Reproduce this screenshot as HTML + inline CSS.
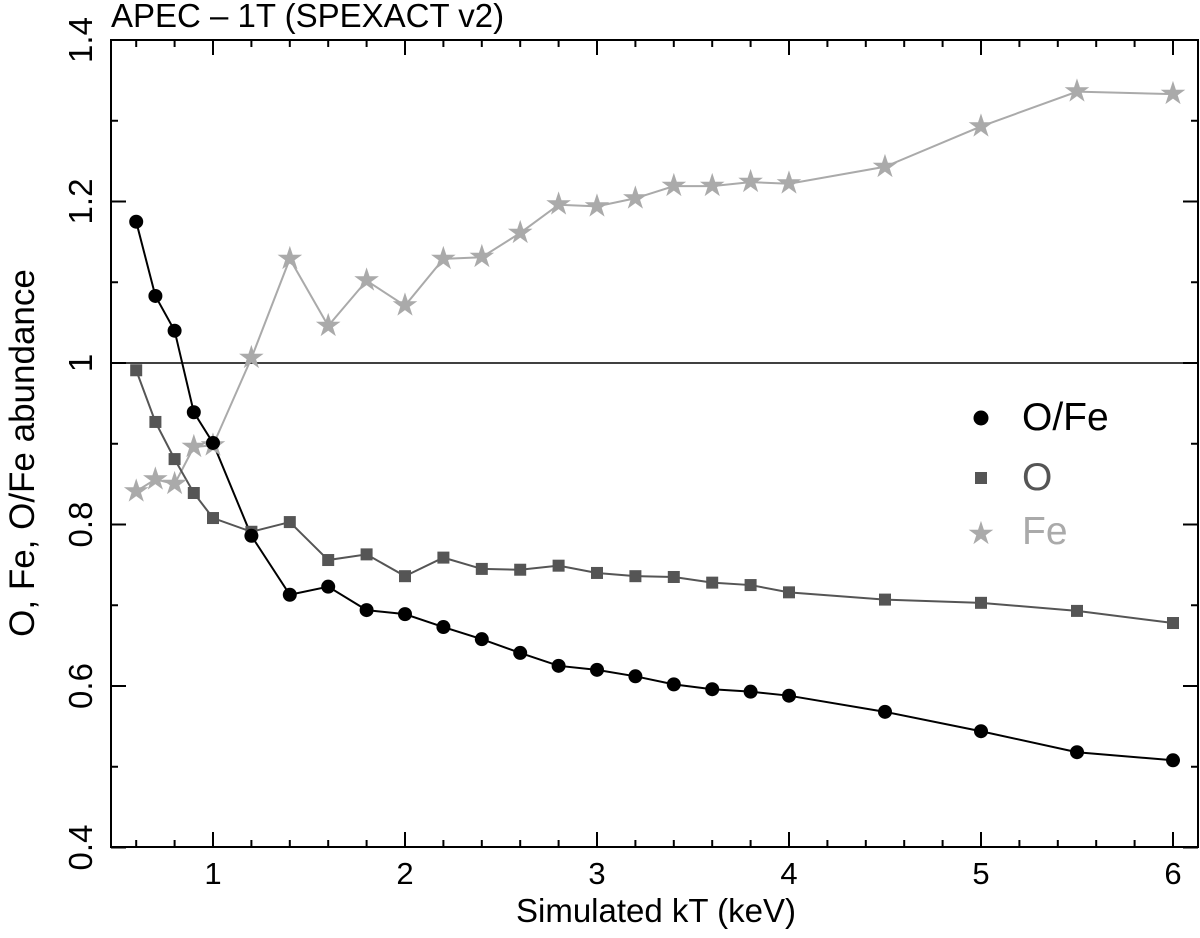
<!DOCTYPE html>
<html><head><meta charset="utf-8"><style>
html,body{margin:0;padding:0;background:#fff}
svg text{font-family:"Liberation Sans",Arial,sans-serif}
</style></head><body>
<svg id="chart" width="1200" height="933" viewBox="0 0 1200 933" xmlns="http://www.w3.org/2000/svg">
<text x="111" y="27" font-size="33">APEC – 1T (SPEXACT v2)</text>
<g id="axes"></g>
<g id="series"></g>
<g id="legend">
  <circle cx="981" cy="418" r="7.5" fill="#000"/>
  <text x="1022" y="430" font-size="39" fill="#000">O/Fe</text>
  <rect x="975" y="472" width="12" height="12" fill="#555"/>
  <text x="1022" y="490" font-size="39" fill="#555">O</text>
  <text x="981" y="544" font-size="32" fill="#aaa" text-anchor="middle">★</text>
  <text x="1022" y="544" font-size="39" fill="#aaa">Fe</text>
</g>
<text x="656" y="922" font-size="33" text-anchor="middle">Simulated kT (keV)</text>
<text transform="translate(34,453) rotate(-90)" font-size="35" text-anchor="middle">O, Fe, O/Fe abundance</text>
</svg>
<script>
const kT = [0.6,0.7,0.8,0.9,1.0,1.2,1.4,1.6,1.8,2.0,2.2,2.4,2.6,2.8,3.0,3.2,3.4,3.6,3.8,4.0,4.5,5.0,5.5,6.0];
const ofe = [1.175,1.083,1.040,0.939,0.901,0.786,0.713,0.723,0.694,0.689,0.673,0.658,0.641,0.625,0.620,0.612,0.602,0.596,0.593,0.588,0.568,0.544,0.518,0.508];
const oAb = [0.991,0.927,0.881,0.839,0.808,0.791,0.803,0.756,0.763,0.736,0.759,0.745,0.744,0.749,0.740,0.736,0.735,0.728,0.725,0.716,0.707,0.703,0.693,0.678];
const feAb = [0.841,0.856,0.850,0.896,0.898,1.006,1.129,1.046,1.102,1.071,1.129,1.131,1.161,1.196,1.194,1.204,1.219,1.219,1.224,1.222,1.243,1.293,1.336,1.333];
const xTicks = [1,2,3,4,5,6];
const yTicks = [0.4,0.6,0.8,1.0,1.2,1.4];
const yTickLabels = ["0.4","0.6","0.8","1","1.2","1.4"];

const NS="http://www.w3.org/2000/svg";
const L=111,R=1198,T=40,B=847;
const xs=v=>213+(v-1)*192;
const ys=v=>363-(v-1)*807.5;
function mk(tag,attrs,parent){const e=document.createElementNS(NS,tag);for(const k in attrs)e.setAttribute(k,attrs[k]);parent.appendChild(e);return e;}
const ax=document.getElementById('axes');
const frame=mk('rect',{x:L,y:T,width:R-L,height:B-T,fill:'none',stroke:'#000','stroke-width':2},ax);


const ref=mk('line',{x1:L,x2:R,y1:ys(1),y2:ys(1),stroke:'#000','stroke-width':1.5},ax);


for(let i=3;i<=30;i++){const v=i/5;const x=xs(v);if(x<L||x>R)continue;const major=(i%5===0);const len=major?15:7;
 mk('line',{x1:x,x2:x,y1:B,y2:B-len,stroke:'#000','stroke-width':2},ax);
 mk('line',{x1:x,x2:x,y1:T,y2:T+len,stroke:'#000','stroke-width':2},ax);}
xTicks.forEach(v=>{const t=mk('text',{x:xs(v),y:884,'font-size':31,'text-anchor':'middle'},ax);t.textContent=String(v);
 
 });
for(let i=4;i<=14;i++){const v=i/10;const y=ys(v);const major=(i%2===0);const len=major?15:7;
 mk('line',{x1:L,x2:L+len,y1:y,y2:y,stroke:'#000','stroke-width':2},ax);
 mk('line',{x1:R,x2:R-len,y1:y,y2:y,stroke:'#000','stroke-width':2},ax);}
yTicks.forEach((v,i)=>{const t=mk('text',{transform:`translate(92,${ys(v)}) rotate(-90)`,'font-size':33,'text-anchor':'middle'},ax);t.textContent=yTickLabels[i];
 
 });
const sg=document.getElementById('series');
function line(vals,color,name){const p=mk('polyline',{points:kT.map((k,i)=>xs(k)+','+ys(vals[i])).join(' '),fill:'none',stroke:color,'stroke-width':2},sg);
 
 }
line(feAb,'#aaa','fe-line');
line(oAb,'#555','o-line');
line(ofe,'#000','ofe-line');
kT.forEach((k,i)=>{const t=mk('text',{x:xs(k),y:ys(feAb[i])+10,'font-size':32,fill:'#aaa','text-anchor':'middle'},sg);t.textContent='★';
 
 });
kT.forEach((k,i)=>{const r=mk('rect',{x:xs(k)-6,y:ys(oAb[i])-6,width:12,height:12,fill:'#555'},sg);
 
 });
kT.forEach((k,i)=>{const c=mk('circle',{cx:xs(k),cy:ys(ofe[i]),r:7,fill:'#000'},sg);
 
 });
</script>
</body></html>
